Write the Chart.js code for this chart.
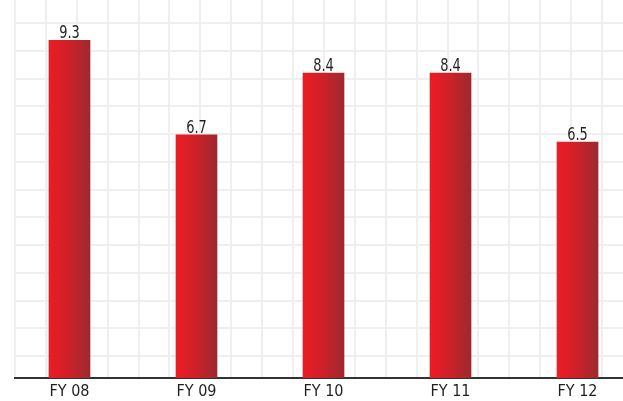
<!DOCTYPE html>
<html>
<head>
<meta charset="utf-8">
<script src="https://cdn.jsdelivr.net/npm/chart.js@4.4.1/dist/chart.umd.min.js"></script>
<style>
  html, body { margin: 0; padding: 0; background: #fff; }
  #wrap { position: relative; width: 623px; height: 401px; overflow: hidden; }
</style>
</head>
<body>
<div id="wrap"><canvas id="chart"></canvas></div>
<script>
// Datos
const categories = ['FY 08', 'FY 09', 'FY 10', 'FY 11', 'FY 12'];
const values = [9.3, 6.7, 8.4, 8.4, 6.5];

const FONT = "'Liberation Sans Narrow', 'DejaVu Sans Condensed', sans-serif";

// Etiquetas encima de las barras (algo estrechadas)
const valueLabels = {
  id: 'valueLabels',
  afterDatasetsDraw(chart) {
    const c = chart.ctx;
    const meta = chart.getDatasetMeta(0);
    c.save();
    c.font = '18px ' + FONT;
    c.fillStyle = '#231f20';
    c.textAlign = 'center';
    c.textBaseline = 'alphabetic';
    meta.data.forEach((bar, i) => {
      c.save();
      c.translate(bar.x, bar.y - 2);
      c.scale(0.8, 1);
      c.fillText(values[i].toFixed(1), 0, 0);
      c.restore();
    });
    c.restore();
  }
};

function barGradient(ctx) {
  const chart = ctx.chart;
  if (!chart.chartArea || ctx.dataIndex === undefined) return '#d0202a';
  const x = chart.scales.x.getPixelForValue(ctx.dataIndex);
  const g = chart.ctx.createLinearGradient(x - 20.5, 0, x + 20.5, 0);
  g.addColorStop(0, '#ed1c24');
  g.addColorStop(0.5, '#cc2129');
  g.addColorStop(1, '#9c2930');
  return g;
}

new Chart(document.getElementById('chart'), {
  type: 'bar',
  data: {
    datasets: [{
      data: values.map((v, i) => ({ x: i, y: v })),
      backgroundColor: barGradient,
      borderWidth: 0,
      barThickness: 41
    }]
  },
  plugins: [valueLabels],
  options: {
    responsive: true,
    maintainAspectRatio: false,
    animation: false,
    layout: { padding: { left: 15, right: 0, top: 0, bottom: 0 } },
    plugins: { legend: { display: false }, tooltip: { enabled: false } },
    scales: {
      x: {
        type: 'linear',
        offset: false,
        min: -0.429,
        max: 4.358,
        z: 1,
        afterFit: (s) => { s.height = 23; },
        grid: { display: false, drawTicks: false },
        border: { display: true, color: '#333333', width: 2 },
        ticks: {
          stepSize: 1,
          includeBounds: false,
          autoSkip: false,
          maxRotation: 0,
          padding: 4,
          color: '#231f20',
          font: { family: FONT, size: 16 },
          callback: (v) => categories[v] ?? ''
        }
      },
      y: { display: false, min: 0, max: 10.41 },
      // rejilla de fondo
      gx: {
        type: 'linear', position: 'top', axis: 'x', offset: false,
        min: 0, max: 19.68,
        grid: { color: '#efefef', lineWidth: 2, drawTicks: false, offset: false },
        border: { display: false },
        ticks: { display: false, stepSize: 1, includeBounds: false }
      },
      gy: {
        type: 'linear', position: 'left', axis: 'y',
        min: -0.793, max: 12.83,
        grid: { color: '#efefef', lineWidth: 2, drawTicks: false, offset: false },
        border: { display: false },
        ticks: { display: false, stepSize: 1, includeBounds: false }
      }
    }
  }
});
</script>
</body>
</html>
